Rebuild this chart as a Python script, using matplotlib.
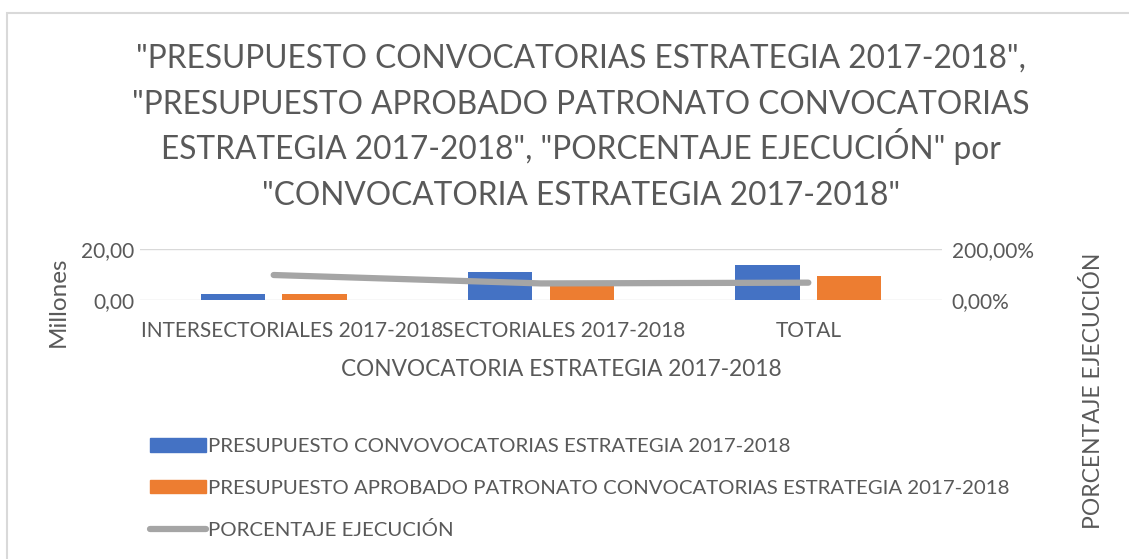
import matplotlib.pyplot as plt
import matplotlib.patches as mpatches
import matplotlib.transforms as mtransforms
from matplotlib.ticker import FuncFormatter
import numpy as np

# datos
categorias = ['INTERSECTORIALES 2017-2018', 'SECTORIALES 2017-2018', 'TOTAL']
presupuesto = [2.5, 10.9, 13.6]          # millones
aprobado = [2.4, 7.2, 9.5]               # millones
porcentaje = [98.0, 65.0, 68.0]          # %

serie1 = 'PRESUPUESTO CONVOVOCATORIAS ESTRATEGIA 2017-2018'
serie2 = 'PRESUPUESTO APROBADO PATRONATO CONVOCATORIAS ESTRATEGIA 2017-2018'
serie3 = 'PORCENTAJE EJECUCIÓN'
titulo = ['"PRESUPUESTO CONVOCATORIAS ESTRATEGIA 2017-2018",',
          '"PRESUPUESTO APROBADO PATRONATO CONVOCATORIAS',
          'ESTRATEGIA 2017-2018", "PORCENTAJE EJECUCIÓN" por',
          '"CONVOCATORIA ESTRATEGIA 2017-2018"']

gris = '#595959'
plt.rcParams['font.family'] = ['Lato', 'DejaVu Sans']
plt.rcParams['text.color'] = gris

W, H = 1129, 559
fig = plt.figure(figsize=(W / 100, H / 100), dpi=100)

# borde del grafico
fig.patches.append(mpatches.Rectangle((7 / W, -0.1), 1.2, (H - 13) / H + 0.1,
                                      transform=fig.transFigure, fill=False,
                                      edgecolor='#d9d9d9', linewidth=1.5))

ax = fig.add_axes([140 / W, 1 - 300 / H, 802 / W, 51 / H])
x = np.arange(len(categorias))
ancho = 0.24
ax.bar(x - 0.153, presupuesto, ancho, color='#4472c4', zorder=2)
ax.bar(x + 0.153, aprobado, ancho, color='#ed7d31', zorder=2)
ax.set_xlim(-0.5, 2.5)
ax.set_ylim(0, 20)
ax.set_yticks([0, 20])
ax.yaxis.set_major_formatter(FuncFormatter(lambda v, p: f'{v:.2f}'.replace('.', ',')))
ax.set_xticks(x)
ax.set_xticklabels(categorias)
ax.grid(axis='y', color='#d9d9d9', linewidth=1, zorder=0)
for s in ax.spines.values():
    s.set_visible(False)
ax.tick_params(length=0, labelsize=15, colors=gris, pad=4)
ax.tick_params(axis='x', pad=15)
# en el original las etiquetas largas se corren a la derecha (px)
corrimiento = [18, 23, 0]
for lbl, dx in zip(ax.get_xticklabels(), corrimiento):
    lbl.set_transform(lbl.get_transform() +
                      mtransforms.ScaledTranslation(dx / 100, 0, fig.dpi_scale_trans))

ax2 = ax.twinx()
ax2.plot(x, porcentaje, color='#a5a5a5', linewidth=4.5, solid_capstyle='round', zorder=3)
ax2.set_ylim(0, 200)
ax2.set_yticks([0, 200])
ax2.yaxis.set_major_formatter(FuncFormatter(lambda v, p: f'{v:.2f}%'.replace('.', ',')))
for s in ax2.spines.values():
    s.set_visible(False)
ax2.tick_params(length=0, labelsize=15, colors=gris, pad=7)

# titulos de ejes
fig.text(58 / W, 1 - 302 / H, 'Millones', rotation=90, fontsize=17.5,
         color=gris, ha='center', va='center')
fig.text(561 / W, 1 - 370 / H, 'CONVOCATORIA ESTRATEGIA 2017-2018', fontsize=16.3,
         color=gris, ha='center', va='center')
fig.text(1093 / W, 1 - 391 / H, 'PORCENTAJE EJECUCIÓN', rotation=90, fontsize=16.5,
         color=gris, ha='center', va='center')

# titulo, linea por linea
for i, linea in enumerate(titulo):
    fig.text(581 / W, 1 - (68 + 45.7 * i) / H, linea, ha='center', va='baseline',
             fontsize=22.8, color=gris)

handles = [mpatches.Patch(color='#4472c4'), mpatches.Patch(color='#ed7d31'),
           plt.Line2D([], [], color='#a5a5a5', linewidth=4.5, solid_capstyle='round')]
fig.legend(handles, [serie1, serie2, serie3], loc='upper left',
           bbox_to_anchor=(132 / W, 1 - 420 / H), frameon=False, fontsize=14.7,
           handlelength=2.7, handleheight=0.64, handletextpad=0.12, labelspacing=1.2,
           labelcolor=gris)

fig.savefig('out.png', dpi=100)
